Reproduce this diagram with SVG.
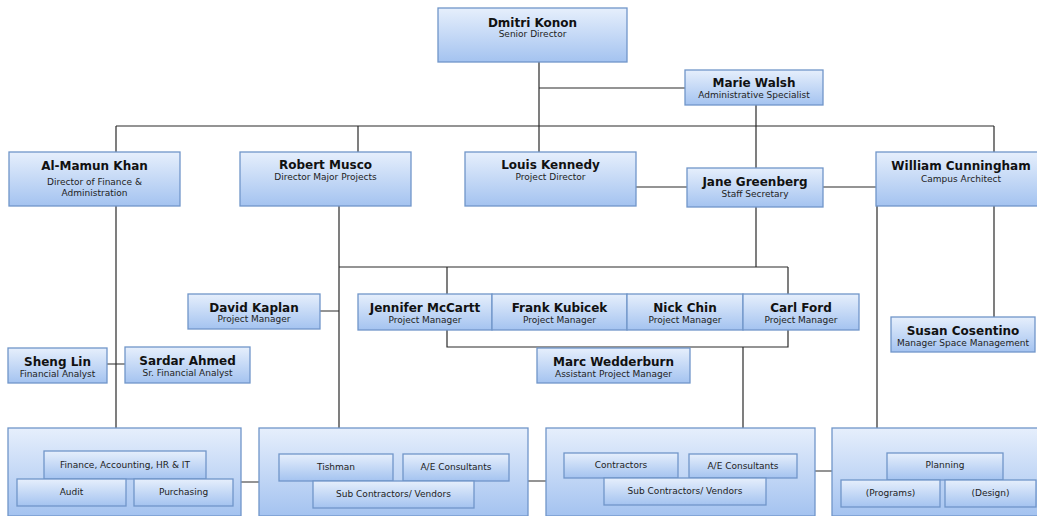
<svg xmlns="http://www.w3.org/2000/svg" width="1037" height="516" viewBox="0 0 1037 516">
<defs>
<linearGradient id="g" x1="0" y1="0" x2="0" y2="1">
<stop offset="0" stop-color="#e6effc"/>
<stop offset="1" stop-color="#a4c3f0"/>
</linearGradient>
<style>
.b{fill:url(#g);stroke:#7096c9;stroke-width:1.3}
.n{font-family:"DejaVu Sans",Verdana,sans-serif;font-size:12px;font-weight:bold;fill:#111;text-anchor:middle}
.s{font-family:"DejaVu Sans",Verdana,sans-serif;font-size:9px;fill:#222;text-anchor:middle}
.c{fill:none;stroke:#2a2a2a;stroke-width:1.2}
</style>
</defs>
<rect width="1037" height="516" fill="#fff"/>
<g id="connectors" class="c">
<path d="M539 62V152M539 88H685M756 105V168M116 126H994M116 126V152M358 126V152M994 126V152"/>
<path d="M636 187H687M823 187H876"/>
<path d="M116 206V428M107 364H125"/>
<path d="M339 206V428M320 311H339"/>
<path d="M756 207V267M339 267H788M447 267V294M788 267V294"/>
<path d="M447 330V347H788V330M743 347V428"/>
<path d="M877 206V428M994 206V317"/>
<path d="M241 482H259M528 481H546M815 471H832"/>
</g>
<g id="dmitri"><rect class="b" x="438" y="8" width="189" height="54"/><text class="n" x="532.5" y="27">Dmitri Konon</text><text class="s" x="532.5" y="37">Senior Director</text></g>
<g id="marie"><rect class="b" x="685" y="70" width="138" height="35"/><text class="n" x="754" y="87">Marie Walsh</text><text class="s" x="754" y="98">Administrative Specialist</text></g>
<g id="alkhan"><rect class="b" x="9" y="152" width="171" height="54"/><text class="n" x="94.5" y="170">Al-Mamun Khan</text><text class="s" x="94.5" y="185">Director of Finance &amp;</text><text class="s" x="94.5" y="196">Administration</text></g>
<g id="musco"><rect class="b" x="240" y="152" width="171" height="54"/><text class="n" x="325.5" y="169">Robert Musco</text><text class="s" x="325.5" y="180">Director Major Projects</text></g>
<g id="kennedy"><rect class="b" x="465" y="152" width="171" height="54"/><text class="n" x="550.5" y="169">Louis Kennedy</text><text class="s" x="550.5" y="180">Project Director</text></g>
<g id="jane"><rect class="b" x="687" y="168" width="136" height="39"/><text class="n" x="755" y="186">Jane Greenberg</text><text class="s" x="755" y="197">Staff Secretary</text></g>
<g id="cunningham"><rect class="b" x="876" y="152" width="170" height="54"/><text class="n" x="961" y="170">William Cunningham</text><text class="s" x="961" y="182">Campus Architect</text></g>
<g id="kaplan"><rect class="b" x="188" y="294" width="132" height="35"/><text class="n" x="254" y="312">David Kaplan</text><text class="s" x="254" y="322">Project Manager</text></g>
<g id="mccartt"><rect class="b" x="358" y="294" width="134" height="36"/><text class="n" x="425" y="312">Jennifer McCartt</text><text class="s" x="425" y="323">Project Manager</text></g>
<g id="kubicek"><rect class="b" x="492" y="294" width="135" height="36"/><text class="n" x="559.5" y="312">Frank Kubicek</text><text class="s" x="559.5" y="323">Project Manager</text></g>
<g id="chin"><rect class="b" x="627" y="294" width="116" height="36"/><text class="n" x="685" y="312">Nick Chin</text><text class="s" x="685" y="323">Project Manager</text></g>
<g id="ford"><rect class="b" x="743" y="294" width="116" height="36"/><text class="n" x="801" y="312">Carl Ford</text><text class="s" x="801" y="323">Project Manager</text></g>
<g id="cosentino"><rect class="b" x="891" y="317" width="144" height="35"/><text class="n" x="963" y="335">Susan Cosentino</text><text class="s" x="963" y="346">Manager Space Management</text></g>
<g id="wedderburn"><rect class="b" x="537" y="348" width="153" height="35"/><text class="n" x="613.5" y="366">Marc Wedderburn</text><text class="s" x="613.5" y="377">Assistant Project Manager</text></g>
<g id="sheng"><rect class="b" x="8" y="348" width="99" height="35"/><text class="n" x="57.5" y="366">Sheng Lin</text><text class="s" x="57.5" y="377">Financial Analyst</text></g>
<g id="sardar"><rect class="b" x="125" y="347" width="125" height="36"/><text class="n" x="187.5" y="365">Sardar Ahmed</text><text class="s" x="187.5" y="376">Sr. Financial Analyst</text></g>
<g id="finance-group">
<rect class="b" x="8" y="428" width="233" height="88"/>
<rect class="b" x="44" y="451" width="162" height="28"/><text class="s" x="125" y="468">Finance, Accounting, HR &amp; IT</text>
<rect class="b" x="17" y="479" width="109" height="27"/><text class="s" x="71.5" y="495">Audit</text>
<rect class="b" x="134" y="479" width="99" height="27"/><text class="s" x="183.5" y="495">Purchasing</text>
</g>
<g id="tishman-group">
<rect class="b" x="259" y="428" width="269" height="88"/>
<rect class="b" x="279" y="454" width="114" height="27"/><text class="s" x="336" y="470">Tishman</text>
<rect class="b" x="403" y="454" width="106" height="27"/><text class="s" x="456" y="470">A/E Consultants</text>
<rect class="b" x="313" y="481" width="161" height="27"/><text class="s" x="393.5" y="497">Sub Contractors/ Vendors</text>
</g>
<g id="contractors-group">
<rect class="b" x="546" y="428" width="269" height="88"/>
<rect class="b" x="564" y="453" width="114" height="25"/><text class="s" x="621" y="468">Contractors</text>
<rect class="b" x="689" y="454" width="108" height="24"/><text class="s" x="743" y="469">A/E Consultants</text>
<rect class="b" x="604" y="478" width="162" height="27"/><text class="s" x="685" y="494">Sub Contractors/ Vendors</text>
</g>
<g id="planning-group">
<rect class="b" x="832" y="428" width="210" height="88"/>
<rect class="b" x="887" y="453" width="116" height="27"/><text class="s" x="945" y="468">Planning</text>
<rect class="b" x="841" y="480" width="99" height="27"/><text class="s" x="890.5" y="496">(Programs)</text>
<rect class="b" x="945" y="480" width="91" height="27"/><text class="s" x="990.5" y="496">(Design)</text>
</g>
</svg>
